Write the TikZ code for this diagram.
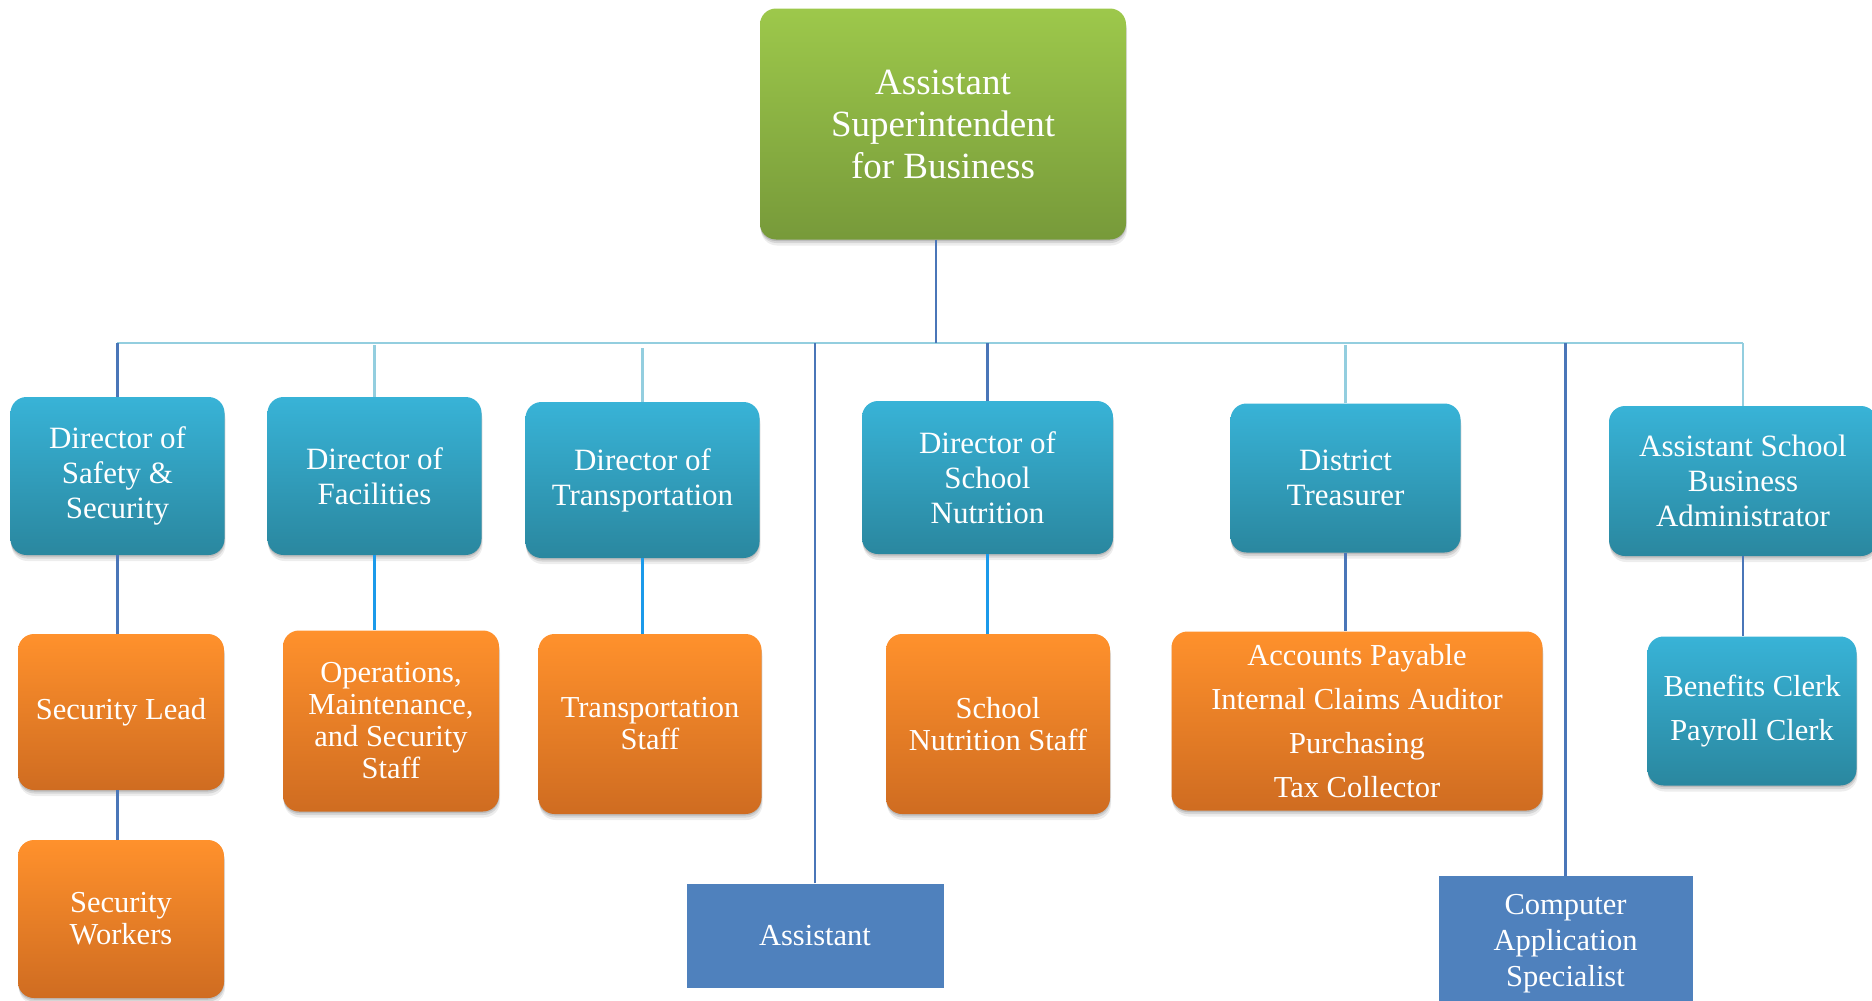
\documentclass[tikz,border=0pt]{standalone}
\usepackage{fontspec}
\setmainfont{Liberation Serif}
\usetikzlibrary{shadows}
\definecolor{gtop}{HTML}{9DC84B}
\definecolor{gbot}{HTML}{779A3A}
\definecolor{ctop}{HTML}{38B3D7}
\definecolor{cbot}{HTML}{2A879F}
\definecolor{otop}{HTML}{FF912C}
\definecolor{obot}{HTML}{CF6C21}
\definecolor{rblue}{HTML}{4F81BD}
\definecolor{ldark}{HTML}{4A76B8}
\definecolor{llight}{HTML}{93CEDF}
\definecolor{lbright}{HTML}{1B9AEA}
\begin{document}
\begin{tikzpicture}[x=1pt,y=-1pt,
  box/.style={rounded corners=16pt, text=white, align=center, inner sep=0pt,
    font=\fontsize{31}{35}\selectfont,
    drop shadow={shadow xshift=0pt, shadow yshift=-1.5pt, opacity=0.12, fill=black},
    drop shadow={shadow xshift=0.5pt, shadow yshift=-3.5pt, opacity=0.10, fill=black},
    drop shadow={shadow xshift=1pt, shadow yshift=-6pt, opacity=0.07, fill=black}},
  gbox/.style={box, top color=gtop, bottom color=gbot, font=\fontsize{37}{42}\selectfont},
  cbox/.style={box, top color=ctop, bottom color=cbot},
  obox/.style={box, top color=otop, bottom color=obot, font=\fontsize{30.5}{32}\selectfont},
  rbox/.style={fill=rblue, text=white, align=center, inner sep=0pt, font=\fontsize{30.5}{36}\selectfont},
  dk/.style={draw=ldark, line width=2.2pt},
  lt/.style={draw=llight, line width=2.2pt},
  br/.style={draw=lbright, line width=2.2pt}]
\useasboundingbox (0,0) rectangle (1872,1001);

% top
\node[gbox, minimum width=366pt, minimum height=231pt] (root) at (943,124) {Assistant\\Superintendent\\for Business};

% directors
\node[cbox, minimum width=214pt, minimum height=158pt] (safety) at (117.5,476) {Director of\\Safety \&\\Security};
\node[cbox, minimum width=214pt, minimum height=158pt] (fac) at (374.5,476) {Director of\\Facilities};
\node[cbox, minimum width=234pt, minimum height=156pt] (trans) at (642.5,480) {Director of\\Transportation};
\node[cbox, minimum width=251pt, minimum height=153pt] (nut) at (987.5,477.5) {Director of\\School\\Nutrition};
\node[cbox, minimum width=230pt, minimum height=149pt] (treas) at (1345.5,478) {District\\Treasurer};
\node[cbox, minimum width=268pt, minimum height=150pt] (asba) at (1743,481) {Assistant School\\Business\\Administrator};

% staff
\node[obox, minimum width=206pt, minimum height=156pt] (lead) at (121,712) {Security Lead};
\node[obox, minimum width=206pt, minimum height=158pt] (workers) at (121,919) {Security\\Workers};
\node[obox, minimum width=216pt, minimum height=181pt] (ops) at (391,721) {Operations,\\Maintenance,\\and Security\\Staff};
\node[obox, minimum width=223pt, minimum height=180pt] (tstaff) at (650,724) {Transportation\\Staff};
\node[obox, minimum width=224pt, minimum height=180pt] (nstaff) at (998,724) {School\\Nutrition Staff};
\node[obox, minimum width=371pt, minimum height=179pt, font=\fontsize{30.5}{44}\selectfont] (tsub) at (1357,721) {Accounts Payable\\Internal Claims Auditor\\Purchasing\\Tax Collector};
\node[cbox, minimum width=209pt, minimum height=149pt, font=\fontsize{30.5}{44}\selectfont] (ben) at (1752,711) {Benefits Clerk\\Payroll Clerk};

% rectangles
\node[rbox, minimum width=257pt, minimum height=104pt] (asst) at (815,935.5) {Assistant};
\node[rbox, minimum width=254pt, minimum height=136pt] (comp) at (1565.5,944) {Computer\\Application\\Specialist};

% bus
\coordinate (busL) at (117,343);
\coordinate (busR) at (1743,343);
\draw[lt] (busL) -- (busR);
\draw[dk] ([xshift=-7pt]root.south) -- ([xshift=-7pt]root.south |- busL);

% drops from bus
\draw[dk] (safety.north) -- (safety.north |- busL);
\draw[lt] (fac.north) -- ([yshift=-2pt]fac.north |- busL);
\draw[lt] (trans.north) -- ([yshift=-5pt]trans.north |- busL);
\draw[dk] (asst.north) -- (asst.north |- busL);
\draw[dk] (nut.north) -- (nut.north |- busL);
\draw[lt] (treas.north) -- ([yshift=-2pt]treas.north |- busL);
\draw[dk] (comp.north) -- (comp.north |- busL);
\draw[lt] (asba.north) -- (asba.north |- busL);

% sub connectors
\draw[dk] (safety.south) -- (safety.south |- lead.north);
\draw[dk] (lead.north |- lead.south) ++(-3.5,0) coordinate (ls) -- (ls |- workers.north);
\draw[br] (fac.south) -- (fac.south |- ops.north);
\draw[br] (trans.south) -- (trans.south |- tstaff.north);
\draw[br] (nut.south) -- (nut.south |- nstaff.north);
\draw[dk] (treas.south) -- (treas.south |- tsub.north);
\draw[dk] (asba.south) -- (asba.south |- ben.north);
\end{tikzpicture}
\end{document}
